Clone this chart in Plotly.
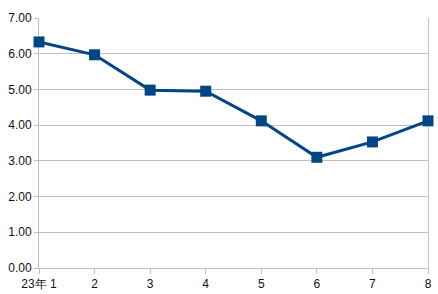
import plotly.graph_objects as go

months = [1, 2, 3, 4, 5, 6, 7, 8]
tick_labels = ["23年 1", "2", "3", "4", "5", "6", "7", "8"]
values = [6.33, 5.97, 4.98, 4.95, 4.12, 3.10, 3.53, 4.12]
y_ticks = [0, 1, 2, 3, 4, 5, 6, 7]

fig = go.Figure()
fig.add_trace(go.Scatter(
    x=months, y=values, mode="lines+markers",
    line=dict(color="#004586", width=3),
    marker=dict(symbol="square", size=11, color="#004586"),
    cliponaxis=False,
))

grid = "#c0c0c0"
fig.update_layout(
    width=438, height=294,
    margin=dict(l=39, r=10, t=18, b=26, autoexpand=False),
    paper_bgcolor="white", plot_bgcolor="white",
    showlegend=False,
    font=dict(family="Liberation Sans, Arial, sans-serif", size=12, color="#111111"),
    xaxis=dict(
        tickmode="array", tickvals=months, ticktext=tick_labels,
        range=[1, 8], showgrid=False, zeroline=False, automargin=False,
        showline=True, linecolor=grid, linewidth=1, mirror=False,
        ticks="outside", ticklen=5, tickcolor=grid, layer="below traces",
    ),
    yaxis=dict(
        tickmode="array", tickvals=y_ticks,
        ticktext=[f"{v:.2f}" for v in y_ticks], automargin=False,
        range=[0, 7], showgrid=True, gridcolor=grid, gridwidth=1,
        zeroline=False, showline=True, linecolor=grid, linewidth=1,
        mirror=True, ticks="outside", ticklen=4, tickcolor=grid,
        layer="below traces",
    ),
)
fig.write_html("out.html")
